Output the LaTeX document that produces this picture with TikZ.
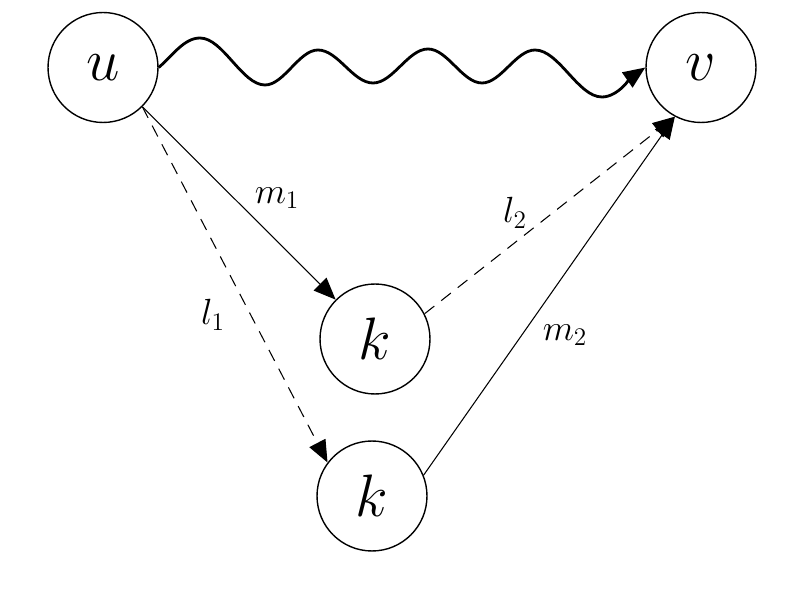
\documentclass[tikz,border=0pt]{standalone}
\usetikzlibrary{arrows.meta}
\newcommand{\bigmath}[1]{\scalebox{1.37}{\Huge$#1$}}
\begin{document}
\begin{tikzpicture}[x=0.02cm,y=-0.02cm,
  vtx/.style={circle,draw,line width=0.8pt,minimum size=2.2cm,inner sep=0pt},
  lbl/.style={font=\huge},
  arr/.style={line width=0.6pt,-{Triangle[length=0.44cm,width=0.36cm]}},
  dsh/.style={dash pattern=on 7pt off 5pt},
  wave/.style={line width=1.6pt,-{Triangle[length=0.44cm,width=0.36cm]}}]
\useasboundingbox (0,0) rectangle (805,604);
\node[vtx] (u) at (103,67.5) {\bigmath{u}};
\node[vtx] (v) at (701,67.5) {\bigmath{v}};
\node[vtx] (k1) at (375,339) {\bigmath{k}};
\node[vtx] (k2) at (372,496) {\bigmath{k}};
\coordinate (w1) at (200,38);
\coordinate (w2) at (265,85);
\coordinate (w3) at (318,50);
\coordinate (w4) at (373,83);
\coordinate (w5) at (428,49);
\coordinate (w6) at (482,83);
\coordinate (w7) at (535,50);
\coordinate (w8) at (602,97);
\draw[wave] (u.east) .. controls +(14,-12) and +(-16,0) .. (w1)
  .. controls +(23,0) and +(-23,0) .. (w2)
  .. controls +(19,0) and +(-19,0) .. (w3)
  .. controls +(20,0) and +(-20,0) .. (w4)
  .. controls +(20,0) and +(-20,0) .. (w5)
  .. controls +(19.5,0) and +(-19.5,0) .. (w6)
  .. controls +(19,0) and +(-19,0) .. (w7)
  .. controls +(24,0) and +(-24,0) .. (w8)
  .. controls +(16,0) and +(-13,9) .. (v.west);
\draw[arr] (u.-45) -- (k1.135);
\draw[arr,dsh] (u.-45) -- (k2.143);
\draw[arr,dsh] (k1.27) -- (v.242);
\draw[arr] (k2.22) -- (v.242);
\node[lbl] (m1) at (277,198) {$m_1$};
\node[lbl] (l1) at (213,315) {$l_1$};
\node[lbl] (l2) at (515,213) {$l_2$};
\node[lbl] (m2) at (565,335) {$m_2$};
\end{tikzpicture}
\end{document}
